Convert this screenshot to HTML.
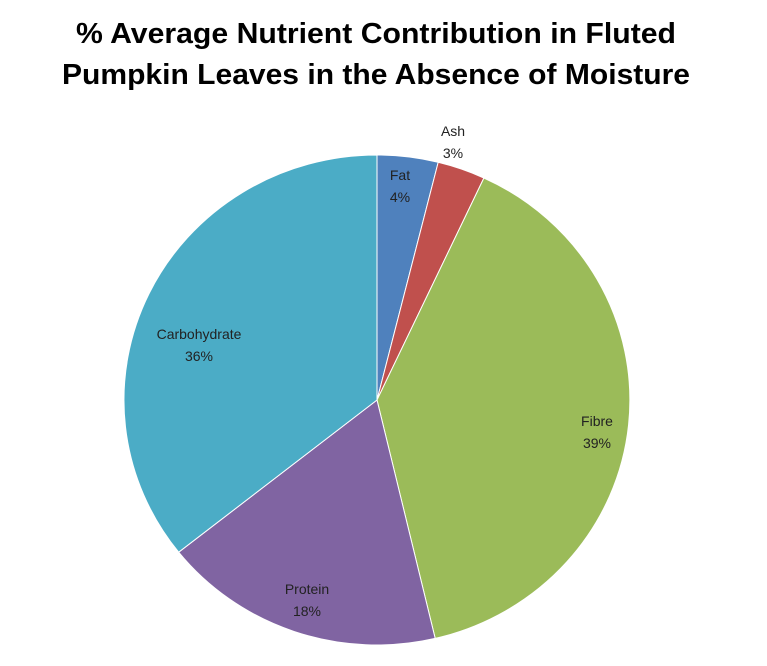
<!DOCTYPE html>
<html><head><meta charset="utf-8"><style>
body{margin:0;background:#fff;}
svg{display:block;font-family:"Liberation Sans",sans-serif;}
</style></head><body>
<svg width="767" height="666" viewBox="0 0 767 666">
<rect width="767" height="666" fill="#fff"/>
<g font-weight="bold" font-size="29" fill="#000" text-anchor="middle">
<text x="376" y="43" textLength="600" lengthAdjust="spacingAndGlyphs">% Average Nutrient Contribution in Fluted</text>
<text x="376" y="84" textLength="628" lengthAdjust="spacingAndGlyphs">Pumpkin Leaves in the Absence of Moisture</text>
</g>
<g stroke="#fff" stroke-width="1">
<path d="M377,400 L377,155 A253,245 0 0 1 438.2,162.3 Z" fill="#4F81BD"/>
<path d="M377,400 L438.2,162.3 A253,245 0 0 1 483.9,178 Z" fill="#C0504D"/>
<path d="M377,400 L483.9,178 A253,245 0 0 1 435.2,638.4 Z" fill="#9BBB59"/>
<path d="M377,400 L435.2,638.4 A253,245 0 0 1 178.7,552.2 Z" fill="#8064A2"/>
<path d="M377,400 L178.7,552.2 A253,245 0 0 1 377,155 Z" fill="#4BACC6"/>
</g>
<g font-size="14" fill="#222" text-anchor="middle">
<text x="400" y="180">Fat</text><text x="400" y="202">4%</text>
<text x="453" y="136">Ash</text><text x="453" y="158">3%</text>
<text x="597" y="426">Fibre</text><text x="597" y="448">39%</text>
<text x="307" y="594">Protein</text><text x="307" y="616">18%</text>
<text x="199" y="339">Carbohydrate</text><text x="199" y="361">36%</text>
</g>
</svg>
</body></html>
